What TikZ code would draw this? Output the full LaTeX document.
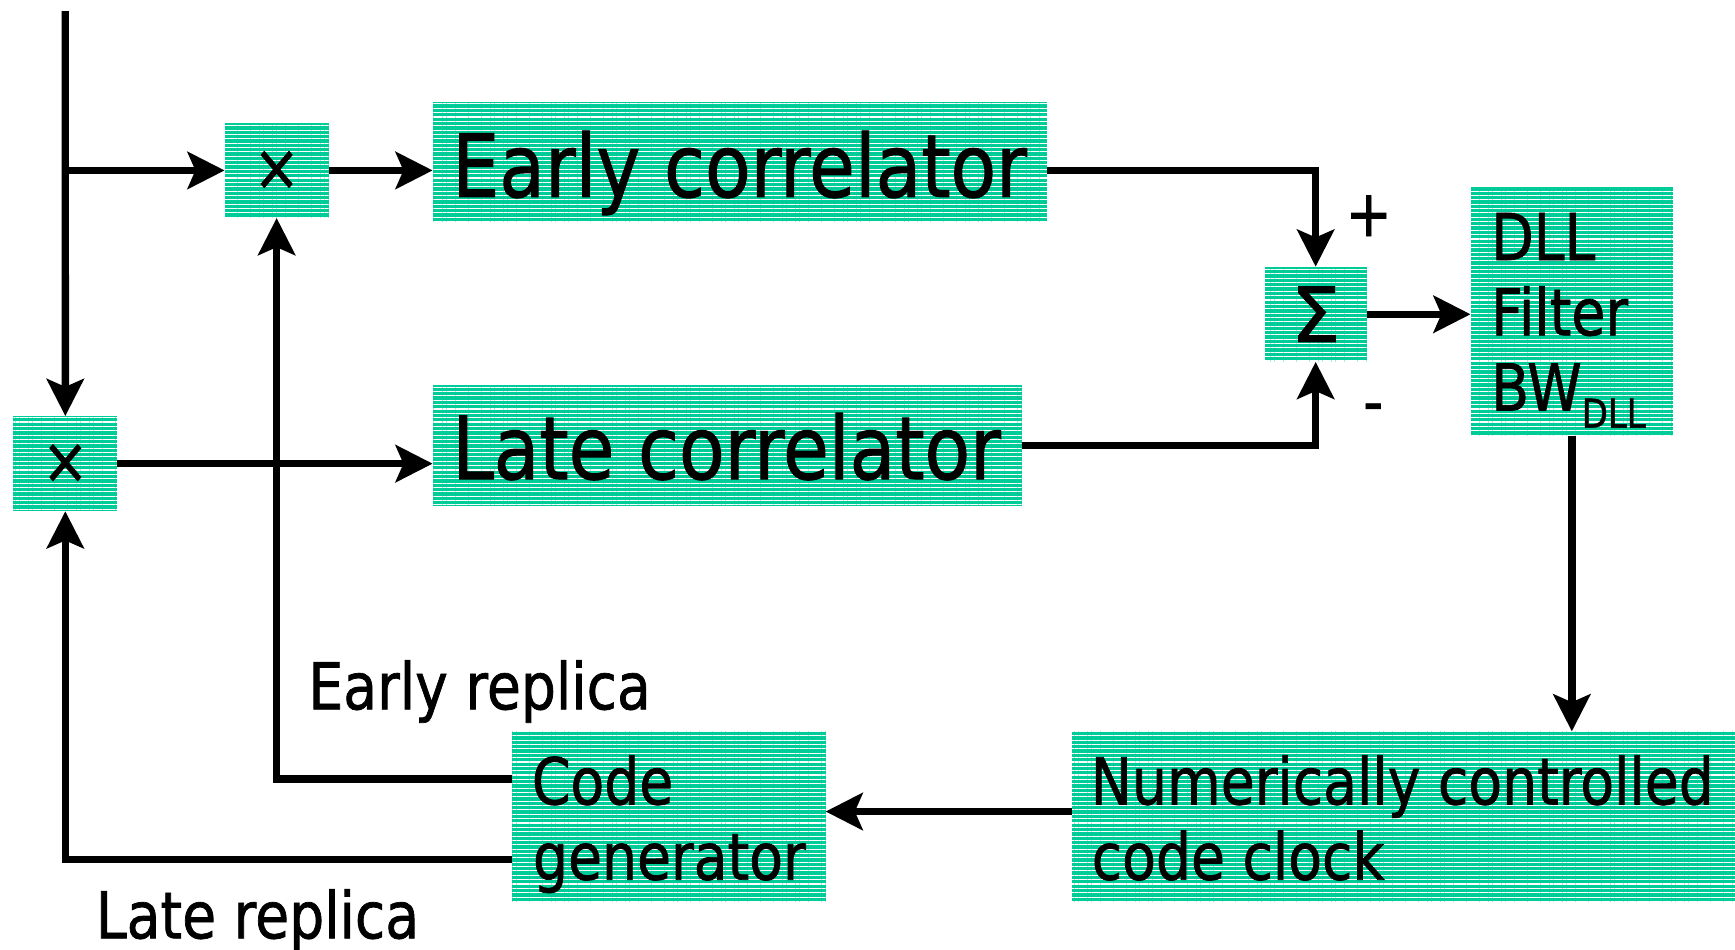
\documentclass[tikz,border=0pt]{standalone}
\usepackage{fontspec}
\setmainfont{DejaVu Sans}[FakeStretch=0.855,FakeBold=1.1]
\usetikzlibrary{arrows.meta,patterns.meta,calc}
\definecolor{boxgreen}{RGB}{0,204,153}
\tikzset{
  box/.style={anchor=north west, inner sep=0pt, outer sep=0pt,
    preaction={fill=boxgreen},
    pattern={Lines[angle=0,distance=1.12pt,line width=0.28pt]}, pattern color=white,
    font=\fontsize{16.6}{19.5}\selectfont},
  lbl/.style={anchor=base west, inner sep=0pt, font=\fontsize{16.6}{19.5}\selectfont},
  big/.style={anchor=base west, inner sep=0pt, font=\fontsize{22.4}{26}\selectfont},
  sym/.style={anchor=center, inner sep=0pt, font=\fontsize{16.6}{19.5}\selectfont},
  arr/.style={line width=1.9pt, -{Stealth[length=9.5pt,width=9.5pt,inset=2pt]}}
}
\begin{document}
\begin{tikzpicture}[x=0.01cm,y=-0.01cm]
\useasboundingbox (0,0) rectangle (1568,858);
% boxes
\node[box, minimum width=9.4mm, minimum height=8.6mm] (m1) at (203,111) {×};
\node[box, minimum width=9.4mm, minimum height=8.6mm] (m2) at (12,376) {×};
\node[box, minimum width=55.5mm, minimum height=10.9mm] (early) at (391,92) {};
\node[box, minimum width=53.2mm, minimum height=10.9mm] (late) at (391,348) {};
\node[box, minimum width=9.2mm, minimum height=8.6mm, font=\fontsize{19.5}{22}\selectfont] (sig) at (1143,241) {\scalebox{1.2}[1]{Σ}};
\node[box, minimum width=18.3mm, minimum height=22.5mm] (dll) at (1329,169) {};
\node[box, minimum width=60.1mm, minimum height=15.4mm] (nco) at (969,661) {};
\node[box, minimum width=28.3mm, minimum height=15.4mm] (code) at (463,661) {};
% texts
\node[big] (earlyT) at (408,178) {Early correlator};
\node[big] (lateT) at (408,433) {Late correlator};
\node[lbl] (codeA) at (480,727) {Code};
\node[lbl] (codeB) at (481,795) {generator};
\node[lbl] (ncoA) at (985,727) {Numerically controlled};
\node[lbl] (ncoB) at (986,795) {code clock};
\node[lbl] (dllA) at (1347,235) {DLL};
\node[lbl] (dllB) at (1347,303) {Filter};
\node[lbl] (dllC) at (1347,371) {BW\raisebox{-4.4pt}{\fontsize{10.2}{12}\selectfont DLL}};
\node[lbl] (erep) at (278,641) {Early replica};
\node[lbl] (lrep) at (86,848) {Late replica};
\node[sym] (plus) at (1237,195) {+};
\node[sym] (minus) at (1241,374) {-};
% connectors
\coordinate (in) at (59,10);
\draw[arr] (in) -- (m2.north);
\draw[arr] (in |- m1.west) -- (m1.west);
\draw[arr] (m1.east) -- (m1.east -| early.west);
\draw[arr] (m2.east) -- (m2.east -| late.west);
\draw[arr] (early.east |- m1.east) -| (sig.north);
\draw[arr] (late.east) -| (sig.south);
\draw[arr] (sig.east) -- (sig.east -| dll.west);
\draw[arr] (dll.south) -- (dll.south |- nco.north);
\coordinate (ncoOut) at ($(nco.north west)!0.47!(nco.south west)$);
\draw[arr] (ncoOut) -- (ncoOut -| code.east);
\coordinate (codeE) at ($(code.north west)!0.28!(code.south west)$);
\coordinate (codeL) at ($(code.north west)!0.75!(code.south west)$);
\draw[arr] (codeE) -| (m1.south);
\draw[arr] (codeL) -| (m2.south);
\end{tikzpicture}
\end{document}
